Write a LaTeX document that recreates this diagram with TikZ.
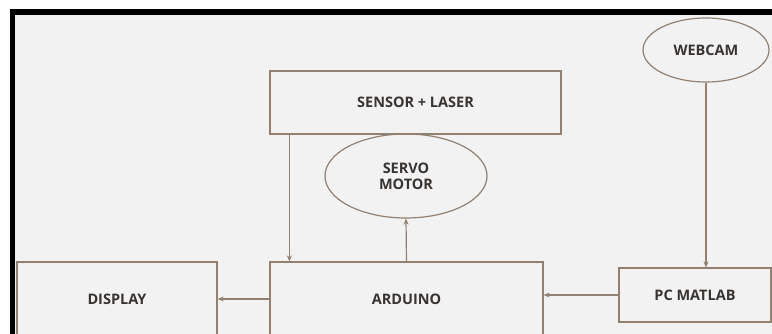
\documentclass[tikz,border=0pt]{standalone}
\usepackage{fontspec}
\setmainfont{Open Sans}
\usepackage{xcolor}
\definecolor{linebrown}{RGB}{146,128,112}
\definecolor{panelgray}{RGB}{242,242,242}
\definecolor{textgray}{RGB}{56,52,50}
\usetikzlibrary{arrows.meta, positioning, shapes.geometric}

\begin{document}
\begin{tikzpicture}[
  x=1pt, y=-1pt,
  font=\fontsize{14.5}{17}\selectfont\bfseries\color{textgray},
  blockbox/.style={rectangle, draw=linebrown, line width=1.2pt,
                   align=center, inner sep=0pt},
  roundbox/.style={ellipse, draw=linebrown, line width=1.2pt,
                   align=center, inner sep=0pt},
  arr/.style={draw=linebrown, line width=1.2pt,
              -{Stealth[length=6pt, width=5pt]}},
]
\useasboundingbox (0,0) rectangle (772,334);
\clip (0,0) rectangle (772,334);

%% --- cadre ---
\fill[white] (0,0) rectangle (772,334);
\fill[panelgray] (12,12) rectangle (780,340);
\draw[black, line width=5.5pt] (12.25,340) -- (12.25,12.25) -- (780,12.25);

%% --- blocs du haut ---
\node[blockbox, minimum width=291, minimum height=63] (sensor) at (415.5,102.5)
  {SENSOR + LASER};
\node[roundbox, minimum width=162, minimum height=84] (servo) at (406,176)
  {SERVO\\[-1pt]MOTOR};
\node[roundbox, minimum width=126, minimum height=64] (webcam) at (706,50)
  {WEBCAM};

%% --- blocs du bas ---
\node[blockbox, minimum width=200, minimum height=74] (display) at (117,299)
  {DISPLAY};
\node[blockbox, minimum width=273, minimum height=74] (ardu) at (406.5,299)
  {ARDUINO};
\node[blockbox, minimum width=152, minimum height=54] (pc) at (695,295)
  {PC MATLAB};

%% --- liaisons ---
\draw[arr] ([xshift=20]sensor.south west) -- ([xshift=20]ardu.north west);
\draw[arr] (ardu.north) -- (servo.south);
\draw[arr] (webcam.south) -- (webcam.south |- pc.north);
\draw[arr] (pc.west) -- (pc.west -| ardu.east);
\draw[arr] (ardu.west) -- (display.east);
\end{tikzpicture}
\end{document}
